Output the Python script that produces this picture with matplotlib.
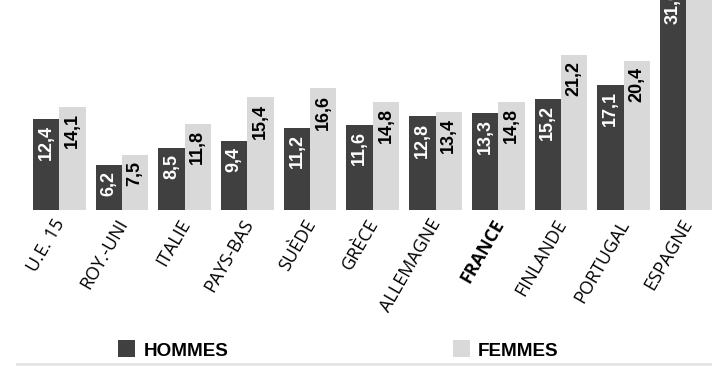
import matplotlib
matplotlib.use("Agg")
import matplotlib.pyplot as plt
from matplotlib.patches import Rectangle

# Data
categories = ["U.E. 15", "ROY.-UNI", "ITALIE", "PAYS-BAS", "SUÈDE", "GRÈCE",
              "ALLEMAGNE", "FRANCE", "FINLANDE", "PORTUGAL", "ESPAGNE"]
hommes = [12.4, 6.2, 8.5, 9.4, 11.2, 11.6, 12.8, 13.3, 15.2, 17.1, 31.0]
femmes = [14.1, 7.5, 11.8, 15.4, 16.6, 14.8, 13.4, 14.8, 21.2, 20.4, 35.0]
series_names = ["HOMMES", "FEMMES"]
highlight = "FRANCE"

DARK = "#404040"
LIGHT = "#d9d9d9"
W, H = 712, 366

fig = plt.figure(figsize=(W / 100, H / 100), dpi=100)
fig.patch.set_facecolor("white")

# plot area: baseline 210 px from the top, running to the top edge
ax = fig.add_axes([0, (H - 210) / H, 1, 210 / H])
pitch = 62.7
ax.set_xlim(-59.3 / pitch, (W - 59.3) / pitch)
ax.set_ylim(0, 210 / 7.32)
ax.set_axis_off()

x = list(range(len(categories)))
bw = 0.42
ax.bar([i - bw / 2 for i in x], hommes, width=bw, color=DARK, linewidth=0)
ax.bar([i + bw / 2 for i in x], femmes, width=bw, color=LIGHT, linewidth=0)

def fmt(v):
    return f"{v:.1f}".replace(".", ",")

val_font = dict(family="Liberation Sans", weight="bold", size=13)
for i in x:
    ax.annotate(fmt(hommes[i]), xy=(i - bw / 2, hommes[i]), xytext=(0, -4.5),
                textcoords="offset points", rotation=90, ha="center", va="top",
                color="white", annotation_clip=False, **val_font)
    ax.annotate(fmt(femmes[i]), xy=(i + bw / 2, femmes[i]), xytext=(0, -4.5),
                textcoords="offset points", rotation=90, ha="center", va="top",
                color="black", annotation_clip=False, **val_font)

# rotated category labels
for i, name in zip(x, categories):
    ax.annotate(name, xy=(i, 0), xytext=(4.3, -9.5), textcoords="offset points",
                rotation=60, rotation_mode="anchor", ha="right", va="baseline",
                family="Open Sans", size=13,
                weight="bold" if name == highlight else "normal",
                color="black", annotation_clip=False)

# legend
leg_font = dict(family="Liberation Sans", weight="bold", size=13.6)
for (sx, tx), name, col in zip([(118, 144), (453, 478)], series_names, [DARK, LIGHT]):
    fig.add_artist(Rectangle((sx / W, 9 / H), 17 / W, 17 / H,
                             transform=fig.transFigure, color=col, lw=0))
    fig.text(tx / W, 10 / H, name, ha="left", va="baseline", color="black", **leg_font)

# bottom rule
fig.add_artist(Rectangle((16 / W, 0), (W - 16) / W, 3 / H,
                         transform=fig.transFigure, color="#e6e6e6", lw=0))

fig.savefig("out.png", dpi=100)
